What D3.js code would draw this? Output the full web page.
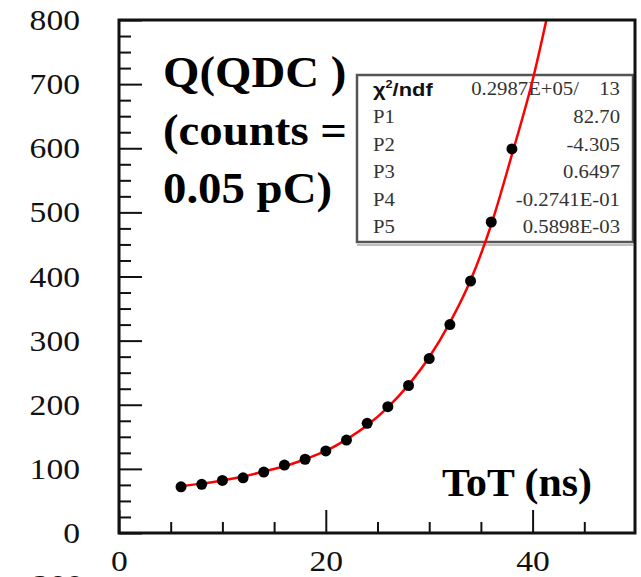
<!DOCTYPE html>
<html>
<head>
<meta charset="utf-8">
<script src="https://cdn.jsdelivr.net/npm/d3@7"></script>
<style>
  body { margin: 0; background: #fff; }
  svg { display: block; }
</style>
</head>
<body>
<svg id="chart" width="641" height="577"></svg>
<script>
// measured points: ToT (ns) vs Q (QDC counts)
var totValues = [6, 8, 10, 12, 14, 16, 18, 20, 22, 24, 26, 28, 30, 32, 34, 36, 38];
var qdcValues = [72, 76, 82, 86, 95, 106, 115, 128, 145, 171, 197, 230, 272, 325, 393, 485, 599];

// fitted curve
var fitTot = [6, 8, 10, 12, 14, 16, 18, 20, 22, 24, 26, 28, 30, 32, 34, 36, 38, 40, 42];
var fitQdc = [73, 77, 82, 88, 96, 104, 115, 128, 146, 168, 196, 231, 274, 328, 394, 481, 590, 706, 850];

var xMajorTicks = [0, 20, 40];
var xMinorTicks = [5, 10, 15, 25, 30, 35, 45];
var yMajorTicks = [0, 100, 200, 300, 400, 500, 600, 700, 800];
var yMinorTicks = d3.range(25, 800, 25).filter(function(v) { return v % 100 != 0; });

var statLabels = ["P1", "P2", "P3", "P4", "P5"];
var statValues = ["82.70", "-4.305", "0.6497", "-0.2741E-01", "0.5898E-03"];
var chiValue = "0.2987E+05/";
var ndfValue = "13";

var yLabelLines = ["Q(QDC )", "(counts =", "0.05 pC)"];
var xLabel = "ToT (ns)";

(function(d3) {
  var svg = d3.select("#chart");
  var left = 119, right = 635, top = 20, bottom = 533;
  var serif = "'Liberation Serif', 'Times New Roman', serif";

  var x = d3.scaleLinear().domain([0, 50]).range([left, right + 1]);
  var y = d3.scaleLinear().domain([0, 800]).range([bottom, top]);

  // the original picture is a bit wider than tall, so text is stretched sideways
  function stretch(sel, k) {
    sel.each(function() {
      var w = this.getComputedTextLength();
      d3.select(this).attr("textLength", w * k).attr("lengthAdjust", "spacingAndGlyphs");
    });
  }

  svg.append("defs").append("clipPath").attr("id", "plotclip")
    .append("rect").attr("x", left).attr("y", top)
    .attr("width", right - left).attr("height", bottom - top);

  // y tick labels
  var yLab = svg.append("g").attr("transform", "translate(" + left + ",0)")
    .call(d3.axisLeft(y).tickValues(yMajorTicks).tickSize(0).tickPadding(39));
  yLab.select(".domain").remove();
  yLab.selectAll("text").style("font-family", serif).style("font-size", "30px").attr("fill", "#111");
  stretch(yLab.selectAll("text"), 1.12);

  // x tick labels
  var xLab = svg.append("g").attr("transform", "translate(0," + bottom + ")")
    .call(d3.axisBottom(x).tickValues(xMajorTicks).tickSize(0).tickPadding(17));
  xLab.select(".domain").remove();
  xLab.selectAll("text").style("font-family", serif).style("font-size", "30px").attr("fill", "#111");
  stretch(xLab.selectAll("text"), 1.12);

  // inward ticks
  function ticks(axis, pos, vals, len) {
    var g = svg.append("g").attr("transform", pos)
      .call(axis.tickValues(vals).tickSize(len).tickFormat(""));
    g.select(".domain").remove();
    g.selectAll("line").attr("stroke", "#111").attr("stroke-width", 2);
  }
  ticks(d3.axisRight(y), "translate(" + left + ",0)", yMajorTicks, 23);
  ticks(d3.axisRight(y), "translate(" + left + ",0)", yMinorTicks, 12);
  ticks(d3.axisTop(x), "translate(0," + bottom + ")", xMajorTicks, 23);
  ticks(d3.axisTop(x), "translate(0," + bottom + ")", xMinorTicks, 11);

  // stats box
  var bx = 357, by = 75, bw = 276, bh = 167;
  svg.append("rect").attr("x", bx).attr("y", by).attr("width", bw).attr("height", bh)
    .attr("fill", "none").attr("stroke", "#555").attr("stroke-width", 2.5);
  svg.append("line").attr("x1", bx).attr("x2", bx + bw)
    .attr("y1", by + bh + 3).attr("y2", by + bh + 3)
    .attr("stroke", "#aaa").attr("stroke-width", 1.5);

  var chi = svg.append("text").attr("x", 373).attr("y", 96)
    .style("font-family", "'Liberation Sans', Arial, sans-serif")
    .style("font-weight", "bold").style("font-size", "19px").attr("fill", "#111");
  chi.append("tspan").text("\u03c7");
  chi.append("tspan").attr("dy", -8).style("font-size", "11px").text("2");
  chi.append("tspan").attr("dy", 8).text("/ndf");
  stretch(chi, 1.15);

  var statText = svg.append("g");
  statText.append("text").attr("x", 579).attr("y", 95).attr("text-anchor", "end").text(chiValue);
  statText.append("text").attr("x", 620).attr("y", 95).attr("text-anchor", "end").text(ndfValue);

  var rows = statText.selectAll(".statrow").data(statLabels).enter().append("g")
    .attr("class", "statrow")
    .attr("transform", function(d, i) { return "translate(0," + (123 + i * 27.5) + ")"; });
  rows.append("text").attr("x", 373).text(function(d) { return d; });
  rows.append("text").attr("x", 620).attr("text-anchor", "end")
    .text(function(d, i) { return statValues[i]; });
  statText.selectAll("text").style("font-family", serif).style("font-size", "18.5px").attr("fill", "#333");
  stretch(statText.selectAll("text"), 1.12);

  // fit curve
  var line = d3.line()
    .curve(d3.curveMonotoneX)
    .x(function(d, i) { return x(fitTot[i]); })
    .y(function(d) { return y(d); });
  svg.append("path").attr("clip-path", "url(#plotclip)")
    .attr("d", line(fitQdc))
    .attr("fill", "none").attr("stroke", "#ff0000").attr("stroke-width", 2.5);

  // data points
  svg.selectAll(".pt").data(qdcValues).enter().append("circle")
    .attr("class", "pt")
    .attr("cx", function(d, i) { return x(totValues[i]); })
    .attr("cy", function(d) { return y(d); })
    .attr("r", 5.5).attr("fill", "#000");

  // frame
  svg.append("rect").attr("x", left).attr("y", top)
    .attr("width", right - left).attr("height", bottom - top)
    .attr("fill", "none").attr("stroke", "#111").attr("stroke-width", 3);

  // axis titles
  var yTitle = svg.selectAll(".ylab").data(yLabelLines).enter().append("text")
    .attr("class", "ylab")
    .attr("x", 163).attr("y", function(d, i) { return 87 + i * 58; })
    .style("font-family", serif).style("font-weight", "bold")
    .style("font-size", "45px").attr("fill", "#000")
    .text(function(d) { return d; });
  stretch(yTitle, 1.04);

  var xTitle = svg.append("text").attr("x", 592).attr("y", 496).attr("text-anchor", "end")
    .style("font-family", serif).style("font-weight", "bold")
    .style("font-size", "41px").attr("fill", "#000").text(xLabel);
  stretch(xTitle, 1.02);

  // cut-off label from the panel below (only its top shows in the reference)
  var cut = svg.append("text").attr("x", 83).attr("y", 595).attr("text-anchor", "end")
    .style("font-family", serif).style("font-size", "30px")
    .attr("fill", "#111").text("200");
  stretch(cut, 1.12);
})(window.d3);
</script>
</body>
</html>
